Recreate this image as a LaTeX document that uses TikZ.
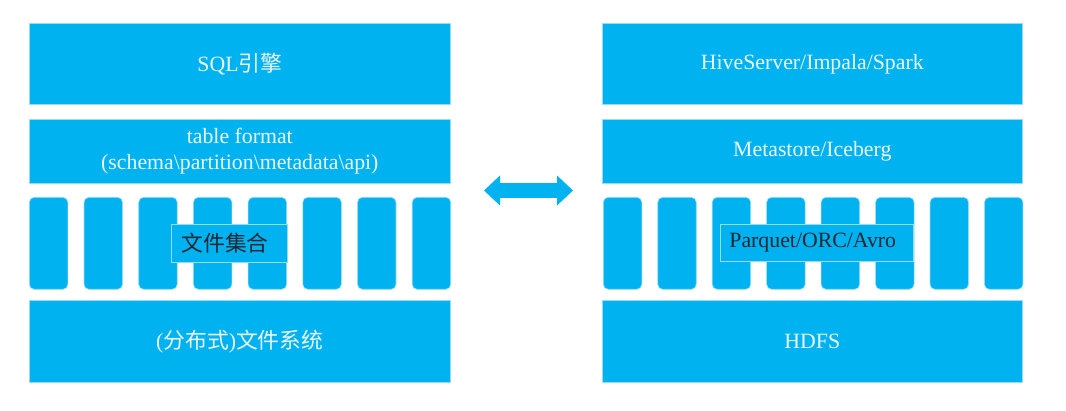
\documentclass[tikz,border=0pt]{standalone}
\usepackage{fontspec}
\setmainfont{Liberation Serif}
\newfontfamily\cjk{Noto Sans CJK SC}
\usetikzlibrary{arrows.meta}
\definecolor{blu}{RGB}{0,178,240}
\definecolor{edge}{RGB}{150,220,248}
\definecolor{txtw}{RGB}{235,248,255}
\definecolor{txtd}{RGB}{30,40,50}
\begin{document}
\begin{tikzpicture}[x=1pt,y=-1pt,
  font=\fontsize{21.8}{26.5}\selectfont,
  layer/.style={fill=blu,draw=edge,line width=0.6pt,anchor=north west,inner sep=0pt,text=txtw,align=center},
  pillar/.style={fill=blu,draw=edge,line width=0.6pt,rounded corners=5pt,anchor=north west,inner sep=0pt,minimum width=38.5pt,minimum height=92pt},
  tag/.style={fill=blu,draw=edge,line width=0.8pt,anchor=north west,inner ysep=0pt,text=txtd,align=left},
  link/.style={draw=blu,line width=15pt,{Triangle[length=16pt,width=30pt,line width=0pt]}-{Triangle[length=16pt,width=30pt,line width=0pt]}}
]
\useasboundingbox (0,0) rectangle (1066,411);
% left stack
\node[layer,minimum width=421pt,minimum height=81pt] (sql) at (29,23) {\raisebox{-2pt}{SQL{\cjk 引擎}}};
\node[layer,minimum width=421pt,minimum height=64pt] (tf) at (29,119) {\raisebox{-2pt}{\begin{tabular}{@{}c@{}}table format\\(schema\textbackslash partition\textbackslash metadata\textbackslash api)\end{tabular}}};
\foreach \i in {0,...,7}{
  \node[pillar] (lp\i) at ({29+54.7*\i},197) {};
}
\node[tag,text width=96pt,inner xsep=10pt,minimum height=38pt] (lfiles) at (171,224) {\raisebox{-1.5pt}{\cjk 文件集合}};
\node[layer,minimum width=421pt,minimum height=82pt] (lfs) at (29,300) {\raisebox{-2pt}{({\cjk 分布式}){\cjk 文件系统}}};
% right stack
\node[layer,minimum width=420pt,minimum height=81pt] (hive) at (602,23) {\raisebox{-2pt}{HiveServer/Impala/Spark}};
\node[layer,minimum width=420pt,minimum height=64pt] (meta) at (602,119) {\raisebox{-2pt}{Metastore/Iceberg}};
\foreach \i in {0,...,7}{
  \node[pillar] (rp\i) at ({603+54.45*\i},197) {};
}
\node[tag,text width=175pt,inner xsep=9pt,minimum height=37pt] (rfiles) at (720,224) {\raisebox{-2pt}{Parquet/ORC/Avro}};
\node[layer,minimum width=420pt,minimum height=82pt] (hdfs) at (602,300) {\raisebox{-2pt}{HDFS}};
% arrow
\coordinate (a1) at (484,190.5);
\coordinate (a2) at (573,190.5);
\draw[link] (a1) -- (a2);
\end{tikzpicture}
\end{document}
